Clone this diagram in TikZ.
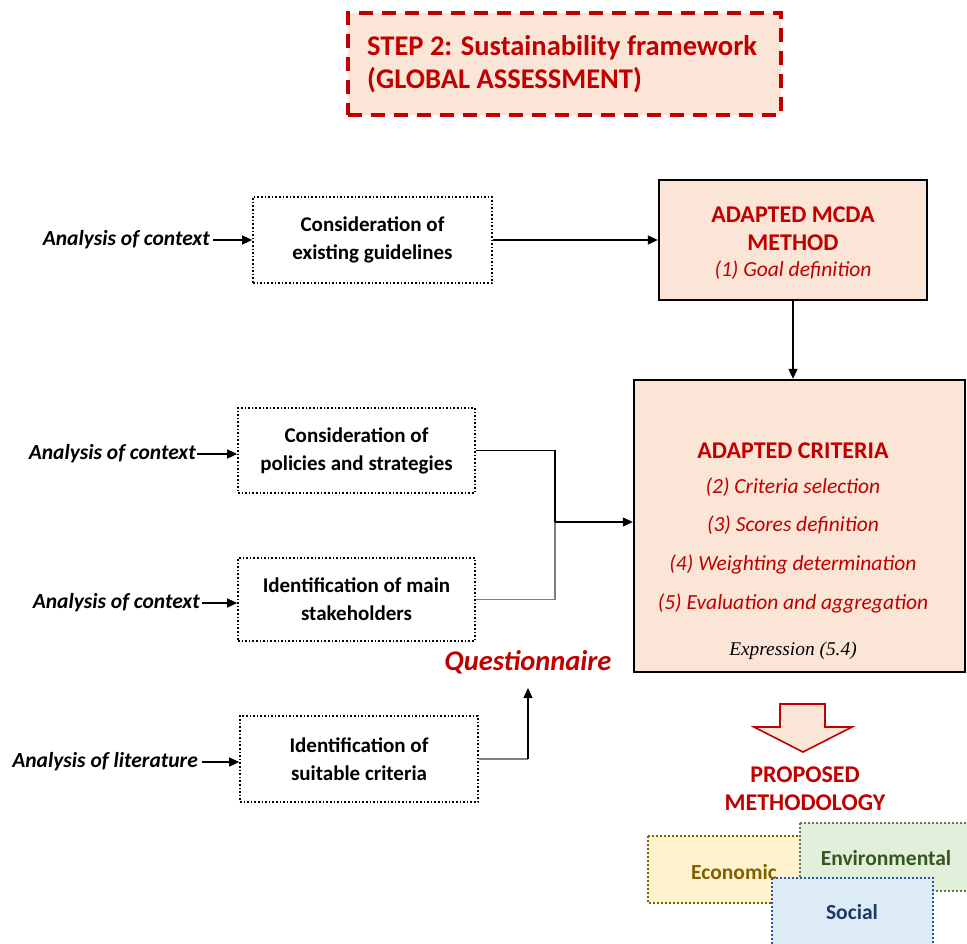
\documentclass[tikz,border=0pt]{standalone}
\usepackage{fontspec}
\setmainfont{Carlito}
\newfontfamily\exprfont{Liberation Serif}
\usetikzlibrary{arrows.meta}

\definecolor{darkred}{HTML}{C00000}
\definecolor{peach}{HTML}{FBE5D6}
\definecolor{ecofill}{HTML}{FFF2CC}
\definecolor{ecoline}{HTML}{7F6000}
\definecolor{envfill}{HTML}{E2EFDA}
\definecolor{envline}{HTML}{375623}
\definecolor{socfill}{HTML}{DDEBF7}
\definecolor{socline}{HTML}{2F5597}
\definecolor{soctext}{HTML}{203864}
\definecolor{linkgray}{HTML}{7F7F7F}

\newcommand{\boxfont}{\fontsize{21}{28}\selectfont\bfseries}
\newcommand{\bigfont}{\fontsize{28.5}{33}\selectfont\bfseries}

\tikzset{
  x=1pt, y=-1pt,
  tip/.style={-{Triangle[length=10pt,width=9pt]}},
  inbox/.style={draw=black, dotted, line width=1.6pt, fill=white,
    align=center, font=\boxfont, inner sep=0pt},
  srcnote/.style={font=\fontsize{21.5}{24}\selectfont\bfseries\itshape, inner sep=0pt},
  mainbox/.style={draw=black, line width=2.4pt, fill=peach, inner sep=0pt},
  redhead/.style={text=darkred, font=\fontsize{24}{28}\selectfont\bfseries, inner sep=0pt},
  reditem/.style={text=darkred, font=\fontsize{21.5}{24}\selectfont\itshape, inner sep=0pt},
  link/.style={line width=1.2pt},
  pillar/.style={dotted, line width=2pt},
  pillartext/.style={font=\fontsize{21.5}{24}\selectfont\bfseries, inner sep=0pt},
}

\begin{document}
\begin{tikzpicture}
\useasboundingbox (0,0) rectangle (967,944);
\clip (0,0) rectangle (967,944);

% title box
\node[draw=darkred, line width=4.5pt, dash pattern=on 14pt off 9pt, fill=peach,
      minimum width=433pt, minimum height=102pt, inner sep=0pt] (step) at (564.5,64) {};
\node[anchor=west, text=darkred, align=left, font=\bigfont, inner sep=0pt]
  (steptxt) at (367,64) {STEP 2: Sustainability framework\\(GLOBAL ASSESSMENT)};

% MCDA method box
\node[mainbox, minimum width=268pt, minimum height=120pt] (mcda) at (793,240) {};
\node[redhead, align=center] (mcdatxt) at (793,229) {ADAPTED MCDA\\METHOD};
\node[reditem] (goal) at (793,270) {(1) Goal definition};

% criteria box
\node[mainbox, minimum width=331pt, minimum height=292pt] (crit) at (799.5,526) {};
\node[redhead] (crithead) at (793,451) {ADAPTED CRITERIA};
\node[reditem] (c2) at (793,487) {(2) Criteria selection};
\node[reditem] (c3) at (793,525) {(3) Scores definition};
\node[reditem] (c4) at (793,564) {(4) Weighting determination};
\node[reditem] (c5) at (793,603) {(5) Evaluation and aggregation};
\node[font=\fontsize{19.4}{22}\selectfont\exprfont\itshape, inner sep=0pt] (expr) at (793,651) {Expression (5.4)};

% input boxes
\node[inbox, minimum width=239pt, minimum height=86pt] (guide) at (372.5,240)
  {Consideration of\\existing guidelines};
\node[inbox, minimum width=237pt, minimum height=85pt] (policy) at (356.5,450.5)
  {Consideration of\\policies and strategies};
\node[inbox, minimum width=237pt, minimum height=83pt] (stake) at (356.5,599.5)
  {Identification of main\\stakeholders};
\node[inbox, minimum width=238pt, minimum height=86pt] (suit) at (359,759)
  {Identification of\\suitable criteria};

% sources
\node[srcnote, anchor=east] (s1) at (210,240) {Analysis of context};
\node[srcnote, anchor=east] (s2) at (196,454) {Analysis of context};
\node[srcnote, anchor=east] (s3) at (200,603) {Analysis of context};
\node[srcnote, anchor=east] (s4) at (198,762) {Analysis of literature};

\draw[link, tip] (s1.east) ++(3,0) coordinate (s1e) -- (guide.west |- s1e);
\draw[link, tip] (s2.east) ++(1,0) coordinate (s2e) -- (policy.west |- s2e);
\draw[link, tip] (s3.east) ++(2,0) coordinate (s3e) -- (stake.west |- s3e);
\draw[link, tip] (s4.east) ++(4,0) coordinate (s4e) -- (suit.west |- s4e);

% connections between boxes
\draw[link, tip] (guide.east) -- (mcda.west |- guide.east);
\draw[link, tip] (mcda.south) -- (crit.north -| mcda.south);

\coordinate (join) at (555,522);
\draw[link] (policy.east) -- (policy.east -| join) -- (join);
\draw[link, linkgray] (stake.east) -- (stake.east -| join) -- (join);
\draw[link, tip] (join) -- (crit.west |- join);

\node[text=darkred, font=\fontsize{28.5}{32}\selectfont\bfseries\itshape, inner sep=0pt]
  (quest) at (528,662) {Questionnaire};
\coordinate (qfoot) at (528,759);
\draw[link, linkgray] (suit.east |- qfoot) -- (qfoot);
\draw[link, tip] (qfoot) -- (528,688);

% outcome arrow
\draw[draw=darkred, line width=1.6pt, fill=peach, line join=miter]
  (780,704) -- (825,704) -- (825,727) -- (852,727) -- (803,752) -- (754,727) -- (780,727) -- cycle;
\node[text=darkred, align=center, font=\fontsize{24}{28}\selectfont\bfseries, inner sep=0pt]
  (proposed) at (805,789) {PROPOSED\\METHODOLOGY};

% sustainability pillars
\draw[pillar, draw=ecoline, fill=ecofill] (648,836) rectangle (810,903);
\draw[pillar, draw=envline!80, fill=envfill] (800,823) rectangle (975,891);
\draw[pillar, draw=socline, fill=socfill] (772,878) rectangle (933,950);
\node[pillartext, text=ecoline] (eco) at (734,872) {Economic};
\node[pillartext, text=envline] (env) at (886,858) {Environmental};
\node[pillartext, text=soctext] (soc) at (852,912) {Social};
\end{tikzpicture}
\end{document}
